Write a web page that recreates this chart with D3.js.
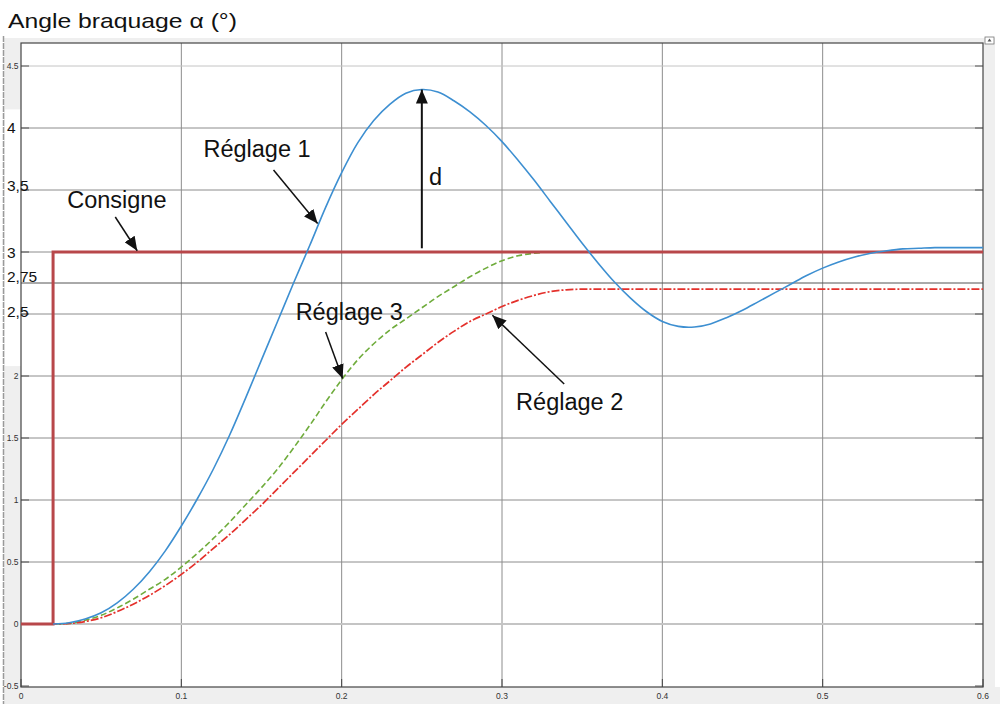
<!DOCTYPE html>
<html>
<head>
<meta charset="utf-8">
<script src="https://cdn.jsdelivr.net/npm/d3@7"></script>
<style>
  body { margin: 0; background: #fff; }
  svg { display: block; font-family: "Liberation Sans", Arial, sans-serif; }
</style>
</head>
<body>
<svg id="chart" width="1000" height="704"></svg>
<script>
var svg = d3.select("#chart");
var W = 1000, H = 704;
var margin = { left: 21, right: 17, top: 43, bottom: 17 };

// Data
var time = [0, 0.01, 0.02, 0.03, 0.04, 0.05, 0.06, 0.07, 0.08, 0.09, 0.10, 0.11, 0.12, 0.13, 0.14, 0.15,
            0.16, 0.17, 0.18, 0.19, 0.20, 0.21, 0.22, 0.23, 0.24, 0.25, 0.26, 0.27, 0.28, 0.29, 0.30,
            0.31, 0.32, 0.33, 0.34, 0.35, 0.36, 0.37, 0.38, 0.39, 0.40, 0.41, 0.42, 0.43, 0.44, 0.45,
            0.46, 0.47, 0.48, 0.49, 0.50, 0.51, 0.52, 0.53, 0.54, 0.55, 0.56, 0.57, 0.58, 0.59, 0.60];
var reglage1 = [0, 0, 0, 0.01, 0.04, 0.09, 0.17, 0.28, 0.42, 0.59, 0.79, 1.01, 1.25, 1.52, 1.82, 2.13,
                2.44, 2.75, 3.05, 3.36, 3.64, 3.88, 4.06, 4.19, 4.28, 4.31, 4.29, 4.22, 4.13, 4.02, 3.89,
                3.74, 3.58, 3.41, 3.24, 3.07, 2.91, 2.76, 2.63, 2.52, 2.44, 2.40, 2.395, 2.42, 2.47, 2.53,
                2.60, 2.67, 2.74, 2.81, 2.87, 2.92, 2.96, 2.99, 3.01, 3.025, 3.03, 3.035, 3.035, 3.035, 3.035];
var reglage2 = [0, 0, 0, 0.004, 0.02, 0.05, 0.10, 0.16, 0.23, 0.31, 0.40, 0.50, 0.61, 0.72, 0.84, 0.96,
                1.09, 1.22, 1.35, 1.48, 1.61, 1.73, 1.85, 1.96, 2.07, 2.17, 2.27, 2.36, 2.44, 2.50, 2.56,
                2.61, 2.65, 2.68, 2.695, 2.70, 2.70, 2.70, 2.70, 2.70, 2.70, 2.70, 2.70, 2.70, 2.70, 2.70,
                2.70, 2.70, 2.70, 2.70, 2.70, 2.70, 2.70, 2.70, 2.70, 2.70, 2.70, 2.70, 2.70, 2.70, 2.70];
var reglage3 = [0, 0, 0, 0.005, 0.03, 0.07, 0.13, 0.20, 0.28, 0.36, 0.46, 0.57, 0.69, 0.82, 0.96, 1.10,
                1.25, 1.42, 1.60, 1.79, 1.97, 2.13, 2.26, 2.37, 2.46, 2.55, 2.64, 2.72, 2.80, 2.87, 2.93,
                2.97, 2.99, 3.0, 3.0, 3.0, 3.0, 3.0, 3.0, 3.0, 3.0, 3.0, 3.0, 3.0, 3.0, 3.0,
                3.0, 3.0, 3.0, 3.0, 3.0, 3.0, 3.0, 3.0, 3.0, 3.0, 3.0, 3.0, 3.0, 3.0, 3.0];
var consigneT = [0, 0.02, 0.02, 0.6];
var consigneV = [0, 0, 3, 3];

var xTicks = [0, 0.1, 0.2, 0.3, 0.4, 0.5, 0.6];
var yTicksSmall = [-0.5, 0, 0.5, 1, 1.5, 2, 4.5];
var yTicksBig = [2.5, 2.75, 3, 3.5, 4];
var yTicksBigLabels = ["2,5", "2,75", "3", "3,5", "4"];

// Annotations in data units: [label, textT, textV, tailT, tailV, tipT, tipV]
var annotations = [
  ["Consigne",  0.0288, 3.355, 0.0588, 3.282, 0.0725, 3.01],
  ["Réglage 1", 0.1138, 3.766, 0.1575, 3.661, 0.185, 3.23],
  ["Réglage 3", 0.1713, 2.452, 0.190, 2.355, 0.2006, 1.98],
  ["Réglage 2", 0.3088, 1.726, 0.3388, 1.935, 0.294, 2.49],
  ["d",         0.2545, 3.54, 0.25, 3.03, 0.25, 4.31]
];

// Scales
var x = d3.scaleLinear().domain([0, 0.6]).range([margin.left, W - margin.right]);
var y = d3.scaleLinear().domain([-0.5, 0]).range([686, 624]);

// Colors
var blue = "#3d8fd1";
var red = "#e4302b";
var green = "#6fac3c";
var consigneColor = "#b8474a";
var grid = "#8c8c8c";
var strip = "#efefef";

var plotL = x(0), plotR = x(0.6), plotT = margin.top, plotB = y(-0.5) + 1;

// Background strips (window chrome)
svg.append("rect").attr("x", 4).attr("y", 38).attr("width", plotL - 4).attr("height", H - 38).style("fill", strip);
svg.append("rect").attr("x", 4).attr("y", plotB).attr("width", W - 4).attr("height", H - plotB).style("fill", strip);
svg.append("rect").attr("x", plotR).attr("y", 38).attr("width", 12).attr("height", H - 38).style("fill", strip);
svg.append("rect").attr("x", 4).attr("y", 38).attr("width", plotR - 4).attr("height", plotT - 38).style("fill", strip);
// white patch behind the pasted labels
svg.append("rect").attr("x", 5).attr("y", y(4.15)).attr("width", plotL - 5).attr("height", y(2.08) - y(4.15)).style("fill", "#fff");
svg.append("line").attr("x1", 3.5).attr("x2", 3.5).attr("y1", 36).attr("y2", H)
   .style("stroke", "#9a9a9a").style("stroke-width", 1.5).style("stroke-dasharray", "6,1");
svg.append("rect").attr("x", plotR + 2).attr("y", 37).attr("width", 9).attr("height", 7)
   .style("fill", "#fff").style("stroke", "#777").style("stroke-width", 0.8);
svg.append("path").attr("d", "M" + (plotR + 6.5) + ",38.5 l-2,3 h4 z").style("fill", "#555");

// Plot area
svg.append("rect").attr("x", plotL).attr("y", plotT).attr("width", plotR - plotL).attr("height", plotB - plotT)
   .style("fill", "#fff");

// Grid
svg.selectAll(".vgrid").data(xTicks.slice(1, -1)).enter().append("line")
   .attr("class", "vgrid")
   .attr("x1", function(d) { return x(d); }).attr("x2", function(d) { return x(d); })
   .attr("y1", plotT).attr("y2", plotB)
   .style("stroke", grid).style("stroke-width", 1);
var hgrid = [4.5, 4, 3.5, 3, 2.75, 2.5, 2, 1.5, 1, 0.5, 0];
svg.selectAll(".hgrid").data(hgrid).enter().append("line")
   .attr("class", "hgrid")
   .attr("x1", plotL).attr("x2", plotR)
   .attr("y1", function(d) { return y(d); }).attr("y2", function(d) { return y(d); })
   .style("stroke", function(d) { return (d === 0 || d === 4.5) ? "#c4c4c4" : (d === 2.75 ? "#555" : grid); })
   .style("stroke-width", function(d) { return d === 0 ? 2 : 1; });

// Ticks
var tickLen = 8;
var yAllTicks = [-0.5, 0, 0.5, 1, 1.5, 2, 2.5, 3, 3.5, 4, 4.5];
svg.selectAll(".ytickL").data(yAllTicks).enter().append("line")
   .attr("x1", plotL).attr("x2", plotL + tickLen)
   .attr("y1", function(d) { return y(d); }).attr("y2", function(d) { return y(d); })
   .style("stroke", "#555");
svg.selectAll(".ytickR").data(yAllTicks).enter().append("line")
   .attr("x1", plotR - tickLen).attr("x2", plotR)
   .attr("y1", function(d) { return y(d); }).attr("y2", function(d) { return y(d); })
   .style("stroke", "#555");
svg.selectAll(".xtick").data(xTicks).enter().append("line")
   .attr("x1", function(d) { return x(d); }).attr("x2", function(d) { return x(d); })
   .attr("y1", plotB - tickLen).attr("y2", plotB)
   .style("stroke", "#444");

// Frame
svg.append("rect").attr("x", plotL).attr("y", plotT).attr("width", plotR - plotL).attr("height", plotB - plotT)
   .style("fill", "none").style("stroke", "#444").style("stroke-width", 1.2);

// Tick labels
svg.selectAll(".xlab").data(xTicks).enter().append("text")
   .attr("x", function(d) { return x(d); })
   .attr("y", plotB + 12)
   .attr("text-anchor", "middle")
   .style("font-size", "8.5px").style("fill", "#333")
   .text(function(d) { return d; });
svg.selectAll(".ylabS").data(yTicksSmall).enter().append("text")
   .attr("x", plotL - 2.5)
   .attr("y", function(d) { return y(d) + 3; })
   .attr("text-anchor", "end")
   .style("font-size", "8.5px").style("fill", "#333")
   .text(function(d) { return d; });
svg.selectAll(".ylabB").data(yTicksBig).enter().append("text")
   .attr("x", 7)
   .attr("y", function(d, i) { return y(d) + ([3, -1, 6, 1, 5][i]); })
   .style("font-size", "15.5px").style("fill", "#111")
   .text(function(d, i) { return yTicksBigLabels[i]; });

// Curves
var lineMono = d3.line()
  .x(function(d) { return x(d[0]); })
  .y(function(d) { return y(d[1]); })
  .curve(d3.curveMonotoneX);
var lineSmooth = d3.line()
  .x(function(d) { return x(d[0]); })
  .y(function(d) { return y(d[1]); })
  .curve(d3.curveCatmullRom.alpha(0.5));
var lineStep = d3.line()
  .x(function(d) { return x(d[0]); })
  .y(function(d) { return y(d[1]); });

var plot = svg.append("g");
plot.append("path").datum(time.map(function(t, i) { return [t, reglage3[i]]; }))
    .attr("d", lineMono).style("fill", "none").style("stroke", green)
    .style("stroke-width", 1.6).style("stroke-dasharray", "6,3");
plot.append("path").datum(time.map(function(t, i) { return [t, reglage2[i]]; }))
    .attr("d", lineMono).style("fill", "none").style("stroke", red)
    .style("stroke-width", 1.7).style("stroke-dasharray", "8,2,2,2");
plot.append("path").datum(consigneT.map(function(t, i) { return [t, consigneV[i]]; }))
    .attr("d", lineStep).style("fill", "none").style("stroke", consigneColor)
    .style("stroke-width", 3);
plot.append("path").datum(time.slice(2).map(function(t, i) { return [t, reglage1[i + 2]]; }))
    .attr("d", lineSmooth).style("fill", "none").style("stroke", blue)
    .style("stroke-width", 1.6);

// Annotations
var defs = svg.append("defs");
defs.append("marker").attr("id", "head")
    .attr("viewBox", "0 0 14 12").attr("refX", 14).attr("refY", 6)
    .attr("markerWidth", 14).attr("markerHeight", 12)
    .attr("markerUnits", "userSpaceOnUse").attr("orient", "auto")
  .append("path").attr("d", "M0,0 L14,6 L0,12 z").style("fill", "#111");

var ann = svg.selectAll(".ann").data(annotations).enter().append("g").attr("class", "ann");
ann.append("line")
   .attr("x1", function(d) { return x(d[3]); }).attr("y1", function(d) { return y(d[4]); })
   .attr("x2", function(d) { return x(d[5]); }).attr("y2", function(d) { return y(d[6]); })
   .style("stroke", "#111").style("stroke-width", function(d) { return d[0] === "d" ? 2 : 1.5; })
   .attr("marker-end", "url(#head)");
ann.append("text")
   .attr("x", function(d) { return x(d[1]); }).attr("y", function(d) { return y(d[2]); })
   .style("font-size", "23.5px").style("fill", "#111")
   .text(function(d) { return d[0]; });

// Title
svg.append("text").attr("x", 8).attr("y", 28)
   .attr("textLength", 229).attr("lengthAdjust", "spacingAndGlyphs")
   .style("font-size", "21px").style("fill", "#111")
   .text("Angle braquage α (°)");
</script>
</body>
</html>
